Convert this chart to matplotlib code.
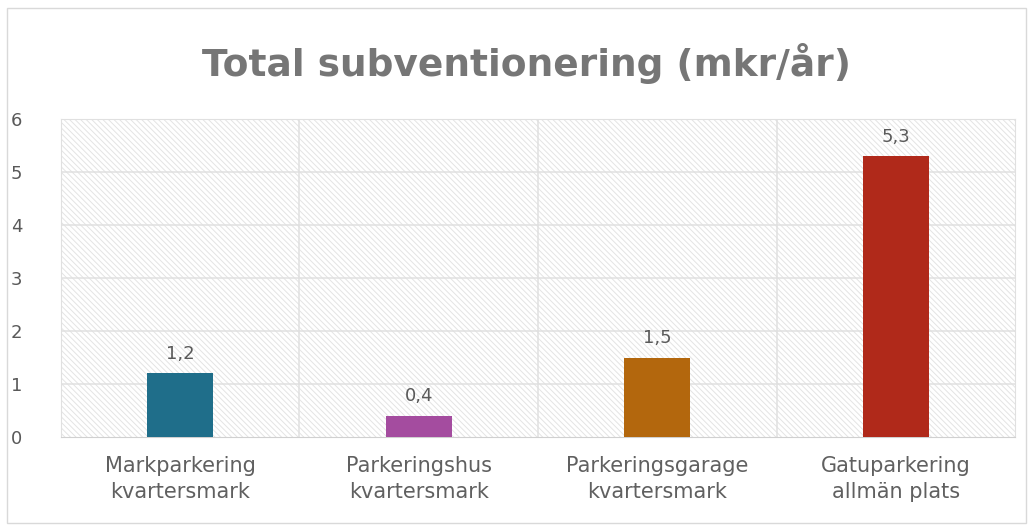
import matplotlib.pyplot as plt
from matplotlib.patches import Rectangle

# data
categories = ["Markparkering\nkvartersmark", "Parkeringshus\nkvartersmark",
              "Parkeringsgarage\nkvartersmark", "Gatuparkering\nallmän plats"]
values = [1.2, 0.4, 1.5, 5.3]
value_labels = ["1,2", "0,4", "1,5", "5,3"]
colors = ["#1f6e8a", "#a44c9f", "#b3670d", "#b0291a"]
yticks = [0, 1, 2, 3, 4, 5, 6]

plt.rcParams['font.family'] = ['DejaVu Sans']
plt.rcParams['hatch.linewidth'] = 0.7
plt.rcParams['hatch.color'] = '#e4e4e4'

fig = plt.figure(figsize=(10.33, 5.25), dpi=100)
ax = fig.add_axes([0.059, 0.1676, 0.9236, 0.6057])

# hatched background
ax.add_patch(Rectangle((0, 0), 1, 1, transform=ax.transAxes, facecolor='white',
                       edgecolor='#e4e4e4', hatch='\\\\\\\\\\\\', linewidth=0, zorder=0))

x = range(len(categories))
ax.bar(x, values, width=0.275, color=colors, zorder=3)
for i, v in enumerate(values):
    ax.text(i, v + 0.2, value_labels[i], ha='center', va='bottom',
            fontsize=13, color='#595959', zorder=4)

ax.set_xlim(-0.5, len(categories) - 0.5)
ax.set_ylim(0, 6)
ax.set_yticks(yticks)
ax.set_yticklabels([str(t) for t in yticks], fontsize=13, color='#595959')
ax.set_xticks(list(x))
ax.set_xticklabels(categories, fontsize=15, color='#606060', linespacing=1.35)
ax.tick_params(length=0, pad=14)
ax.tick_params(axis='y', pad=36)
for lbl in ax.get_yticklabels():
    lbl.set_horizontalalignment('left')

# grid: horizontal at ticks, vertical at category borders
for t in yticks[1:]:
    ax.axhline(t, color='#e0e0e0', linewidth=1.1, zorder=1)
for b in [0.5, 1.5, 2.5]:
    ax.axvline(b, color='#e0e0e0', linewidth=1.1, zorder=1)
for s in ['top', 'right', 'left']:
    ax.spines[s].set_color('#e0e0e0')
ax.spines['bottom'].set_color('#d0d0d0')
ax.set_axisbelow(True)

fig.text(0.51, 0.88, "Total subventionering (mkr/år)", ha='center', va='center',
         fontsize=27, fontweight='bold', color='#767676')

# outer frame
fig.add_artist(Rectangle((0.007, 0.004), 0.986, 0.98, transform=fig.transFigure,
                         fill=False, edgecolor='#d9d9d9', linewidth=1))

fig.savefig("out.png", dpi=100)
